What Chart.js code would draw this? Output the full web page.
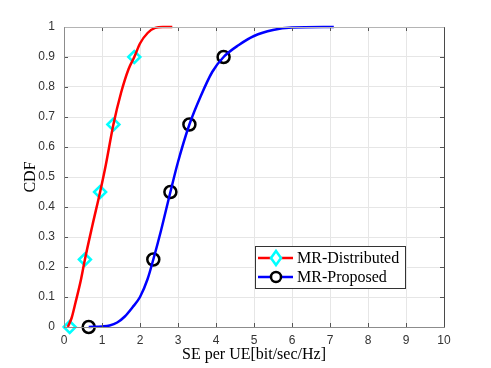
<!DOCTYPE html>
<html>
<head>
<meta charset="utf-8">
<script src="https://cdn.jsdelivr.net/npm/chart.js@4/dist/chart.umd.min.js"></script>
<style>
  html, body { margin: 0; padding: 0; background: #fff; }
  #wrap { width: 491px; height: 368px; }
</style>
</head>
<body>
<div id="wrap"><canvas id="cdfChart" width="491" height="368"></canvas></div>
<script>
// ===== CDF curves =====
const distX = [0.1, 0.2, 0.3, 0.45, 0.55, 0.75, 0.95, 1.1, 1.3, 1.5, 1.7, 1.85, 2.0, 2.2, 2.4, 2.6, 2.85]
const distY = [0, 0.03, 0.08, 0.16, 0.225, 0.34, 0.45, 0.54, 0.675, 0.78, 0.86, 0.9, 0.945, 0.98, 0.997, 1.0, 1.0]

const propX = [0.65, 1.0, 1.2, 1.4, 1.6, 1.8, 2.0, 2.2, 2.35, 2.55, 2.8, 3.0, 3.3, 3.6, 3.9, 4.2, 4.6, 5.0, 5.5, 6.0, 7.1]
const propY = [0, 0.002, 0.005, 0.015, 0.035, 0.065, 0.1, 0.16, 0.225, 0.32, 0.45, 0.55, 0.675, 0.77, 0.85, 0.9, 0.94, 0.97, 0.99, 0.998, 1.0]

// markers
const distMarkX = [0.15, 0.55, 0.95, 1.3, 1.85]
const propMarkX = [0.65, 2.35, 2.8, 3.3, 4.2]
const markY = [0, 0.225, 0.45, 0.675, 0.9]

const seriesNames = ['MR-Distributed', 'MR-Proposed']
const xTicks = [0, 1, 2, 3, 4, 5, 6, 7, 8, 9, 10]
const yTicks = [0, 0.1, 0.2, 0.3, 0.4, 0.5, 0.6, 0.7, 0.8, 0.9, 1]

const toPts = (xs, ys) => xs.map((x, i) => ({ x: x, y: ys[i] }))

// inward ticks + box, matlab style
const boxPlugin = {
  id: 'box',
  afterDatasetsDraw(chart) {
    const { ctx, chartArea: a, scales } = chart
    ctx.save()
    ctx.lineWidth = 1
    ctx.strokeStyle = '#555'
    ctx.beginPath()
    xTicks.forEach(v => {
      const px = Math.round(scales.x.getPixelForValue(v)) + 0.5
      ctx.moveTo(px, a.bottom); ctx.lineTo(px, a.bottom - 4)
      ctx.moveTo(px, a.top); ctx.lineTo(px, a.top + 4)
    })
    yTicks.forEach(v => {
      const py = Math.round(scales.y.getPixelForValue(v)) + 0.5
      ctx.moveTo(a.left, py); ctx.lineTo(a.left + 4, py)
      ctx.moveTo(a.right, py); ctx.lineTo(a.right - 4, py)
    })
    ctx.stroke()
    // box edges
    const l = Math.round(a.left) + 0.5, r = Math.round(a.right) + 0.5
    const t = Math.round(a.top) + 0.5, b = Math.round(a.bottom) + 0.5
    ctx.strokeStyle = '#8c8c8c'
    ctx.beginPath(); ctx.moveTo(l, t); ctx.lineTo(l, b); ctx.lineTo(r, b); ctx.stroke()
    ctx.strokeStyle = '#b4b4b4'
    ctx.beginPath(); ctx.moveTo(l, t); ctx.lineTo(r, t); ctx.stroke()
    ctx.strokeStyle = '#4a4a4a'
    ctx.beginPath(); ctx.moveTo(r, t); ctx.lineTo(r, b); ctx.stroke()
    ctx.restore()
  }
}

// legend box with line + marker samples
const legendPlugin = {
  id: 'matlabLegend',
  afterDraw(chart) {
    const { ctx } = chart
    const bx = 255, by = 246, bw = 150, bh = 42
    ctx.save()
    ctx.fillStyle = '#fff'
    ctx.fillRect(bx, by, bw, bh)
    ctx.strokeStyle = '#333'
    ctx.lineWidth = 1
    ctx.strokeRect(bx + 0.5, by + 0.5, bw, bh)
    const rows = [
      { y: by + 12, line: '#ff0000', mk: 'rectRot', mkColor: '#00ffff' },
      { y: by + 31, line: '#0000ff', mk: 'circle', mkColor: '#000' }
    ]
    rows.forEach((r, i) => {
      ctx.strokeStyle = r.line
      ctx.lineWidth = 2.5
      ctx.beginPath(); ctx.moveTo(258, r.y); ctx.lineTo(293, r.y); ctx.stroke()
      ctx.lineWidth = 2.5
      ctx.strokeStyle = r.mkColor
      ctx.fillStyle = '#fff'
      ctx.beginPath()
      if (r.mk === 'circle') {
        ctx.arc(276, r.y, 5, 0, Math.PI * 2)
      } else {
        ctx.moveTo(276, r.y - 7); ctx.lineTo(281, r.y); ctx.lineTo(276, r.y + 7); ctx.lineTo(271, r.y); ctx.closePath()
      }
      ctx.fill(); ctx.stroke()
      ctx.fillStyle = '#000'
      ctx.font = '16px "Liberation Serif", serif'
      ctx.textBaseline = 'middle'
      ctx.textAlign = 'left'
      ctx.fillText(seriesNames[i], 297, r.y + 1)
    })
    ctx.restore()
  }
}

const ctx = document.getElementById('cdfChart').getContext('2d')
new Chart(ctx, {
  type: 'scatter',
  data: {
    datasets: [
      { label: seriesNames[0], data: toPts(distX, distY), showLine: true, borderColor: '#ff0000', borderWidth: 2.5, pointRadius: 0, tension: 0.4, cubicInterpolationMode: 'monotone' },
      { label: seriesNames[1], data: toPts(propX, propY), showLine: true, borderColor: '#0000ff', borderWidth: 2.5, pointRadius: 0, tension: 0.4, cubicInterpolationMode: 'monotone' },
      { label: 'distMarks', data: toPts(distMarkX, markY), showLine: false, pointStyle: 'rectRot', pointRadius: 6, borderWidth: 2.5, borderColor: '#00ffff', backgroundColor: '#fff' },
      { label: 'propMarks', data: toPts(propMarkX, markY), showLine: false, pointStyle: 'circle', pointRadius: 6, borderWidth: 2.5, borderColor: '#000', backgroundColor: '#fff' }
    ]
  },
  options: {
    responsive: false,
    animation: false,
    clip: false,
    layout: { padding: { left: 0, top: 27, right: 47, bottom: 0 } },
    plugins: { legend: { display: false }, tooltip: { enabled: false } },
    scales: {
      x: {
        type: 'linear', min: 0, max: 10,
        afterFit: s => { s.height = 41 },
        afterBuildTicks: s => { s.ticks = xTicks.map(v => ({ value: v })) },
        grid: { color: '#e6e6e6', drawTicks: false },
        border: { display: false },
        ticks: { color: '#333', padding: 6, font: { family: 'Liberation Sans', size: 12 }, maxRotation: 0 },
        title: { display: true, text: 'SE per UE[bit/sec/Hz]', color: '#000', padding: { top: 4 }, font: { family: 'Liberation Serif', size: 16 } }
      },
      y: {
        type: 'linear', min: 0, max: 1,
        afterFit: s => { s.width = 64 },
        afterBuildTicks: s => { s.ticks = yTicks.map(v => ({ value: v })) },
        grid: { color: '#e6e6e6', drawTicks: false },
        border: { display: false },
        ticks: { color: '#333', padding: 9, font: { family: 'Liberation Sans', size: 12 }, callback: v => String(Math.round(v * 10) / 10) },
        title: { display: true, text: 'CDF', color: '#000', padding: { top: 21 }, font: { family: 'Liberation Serif', size: 16 } }
      }
    }
  },
  plugins: [boxPlugin, legendPlugin]
})
</script>
</body>
</html>
